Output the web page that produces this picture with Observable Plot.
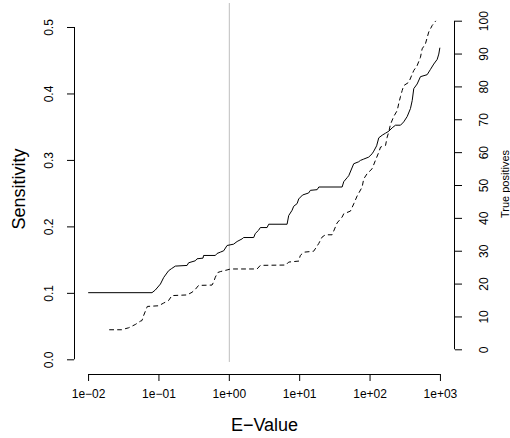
<!DOCTYPE html>
<html><head><meta charset="utf-8">
<script src="https://cdn.jsdelivr.net/npm/d3@7"></script>
<script src="https://cdn.jsdelivr.net/npm/@observablehq/plot@0.6"></script>
<style>body{margin:0;background:#fff}</style>
</head><body><div id="chart"></div>
<script>
// Solid curve: sensitivity vs E-value (left axis)
const solidE = [0.01,0.0797,0.0888,0.105,0.117,0.137,0.150,0.171,0.251,0.264,0.329,0.348,0.423,0.431,0.633,0.670,0.746,0.831,0.929,1.15,1.29,1.52,1.60,2.22,2.34,2.61,2.76,3.44,3.63,6.62,6.98,7.80,8.22,9.19,9.68,11.0,13.4,14.2,17.7,18.7,40.1,42.3,47.2,49.8,58.6,69.0,73.0,81.3,95.7,107,113,124,133,149,166,185,206,230,271,301,337,375,397,418,467,520,648,722,804,899,948,980];
const solidSens = [0.101,0.101,0.105,0.114,0.124,0.134,0.137,0.141,0.142,0.146,0.149,0.152,0.153,0.157,0.157,0.160,0.162,0.164,0.172,0.174,0.178,0.182,0.184,0.184,0.190,0.195,0.199,0.199,0.204,0.204,0.217,0.225,0.231,0.235,0.242,0.248,0.251,0.255,0.256,0.260,0.260,0.268,0.274,0.277,0.295,0.298,0.300,0.302,0.305,0.310,0.314,0.322,0.334,0.338,0.341,0.344,0.349,0.353,0.353,0.358,0.366,0.378,0.390,0.408,0.415,0.426,0.429,0.437,0.445,0.452,0.460,0.469];
// Dashed curve: true positives vs E-value (right axis)
const dashedE = [0.0199,0.0292,0.0371,0.0461,0.0543,0.0574,0.0605,0.064,0.0684,0.0989,0.116,0.137,0.153,0.251,0.295,0.329,0.366,0.568,0.598,0.633,0.683,0.746,0.929,1.04,2.48,2.76,6.36,6.98,9.68,10.2,11.4,15.8,18.6,20.8,23.2,28.9,34.0,40.1,42.3,52.6,58.6,65.5,77.1,81.3,90.8,107,119,133,141,166,175,185,195,217,243,256,271,286,301,355,418,467,520,550,612,682,764,852];
const dashedTP = [6.1,6.1,6.7,7.7,8.7,8.9,10.4,11.7,13.2,13.4,14.2,15.0,16.5,16.7,17.5,18.4,19.6,19.7,20.6,22.1,23.5,23.8,24.3,24.6,24.6,25.7,25.8,26.7,27.0,28.7,29.7,30.0,32.3,34.3,35.0,35.0,38.6,40.4,41.4,42.2,44.4,46.8,49.5,52.0,53.6,55.1,57.6,60.1,61.7,62.2,64.7,66.4,68.6,71.0,72.8,75.0,77.1,78.9,80.4,81.4,85.0,86.5,89.0,91.6,93.1,96.7,98.7,100];

const xTicks = [1e-2, 1e-1, 1, 10, 100, 1000];
const xTickLabels = ["1e\u221202","1e\u221201","1e+00","1e+01","1e+02","1e+03"];
const sensTicks = [0, 0.1, 0.2, 0.3, 0.4, 0.5];
const sensTickLabels = ["0.0","0.1","0.2","0.3","0.4","0.5"];
const tpTicks = [0,10,20,30,40,50,60,70,80,90,100];
const refE = 1;
const xTitle = "E\u2212Value", yTitle = "Sensitivity", y2Title = "True positives";

// layout / scale helpers
const xDomain = [10 ** -2.2, 10 ** 3.2];
const yDomain = [-0.0221, 0.5361];
const tpA = 0.015047, tpB = 0.0049443; // right axis mapping onto left scale
const tpToS = tp => tpA + tpB * tp;

const solid = solidE.map((e, i) => ({e, s: solidSens[i]}));
const dashed = dashedE.map((e, i) => ({e, s: tpToS(dashedTP[i])}));
const font = "Liberation Sans, Arial, Helvetica, sans-serif";

const chart = Plot.plot({
  width: 510, height: 438,
  marginLeft: 74, marginRight: 56, marginTop: 3, marginBottom: 64,
  style: {fontFamily: font, background: "white", color: "black"},
  x: {type: "log", domain: xDomain},
  y: {domain: yDomain},
  marks: [
    Plot.ruleX([refE], {y1: -0.004, y2: yDomain[1], stroke: "#bebebe", strokeWidth: 1}),
    Plot.line(solid, {x: "e", y: "s", stroke: "black", strokeWidth: 1}),
    Plot.line(dashed, {x: "e", y: "s", stroke: "black", strokeWidth: 1, strokeDasharray: "4,4"}),
    // x axis
    Plot.ruleY([yDomain[0]], {x1: xTicks[0], x2: xTicks[xTicks.length - 1], stroke: "black"}),
    Plot.axisX(xTicks, {tickSize: 7, tickPadding: 8, fontSize: 12, tickFormat: d => xTickLabels[xTicks.indexOf(d)], label: null}),
    // left axis
    Plot.ruleX([xDomain[0]], {y1: sensTicks[0], y2: sensTicks[sensTicks.length - 1], stroke: "black"}),
    Plot.axisY(sensTicks, {anchor: "left", tickSize: 7, tickPadding: 15, tickRotate: -90, fontSize: 12, tickFormat: d => sensTickLabels[sensTicks.indexOf(d)], label: null}),
    // right axis
    Plot.ruleX([xDomain[1]], {y1: tpToS(tpTicks[0]), y2: tpToS(tpTicks[tpTicks.length - 1]), stroke: "black"}),
    Plot.axisY(tpTicks.map(tpToS), {anchor: "right", tickSize: 7, tickPadding: 18, tickRotate: -90, lineAnchor: "top", fontSize: 12, tickFormat: d => String(Math.round((d - tpA) / tpB)), label: null}),
    // titles
    Plot.text([xTitle], {frameAnchor: "bottom", dy: 51, fontSize: 18, textAnchor: "middle", lineAnchor: "middle"}),
    Plot.text([yTitle], {frameAnchor: "left", dx: -55, rotate: -90, fontSize: 18, textAnchor: "middle", lineAnchor: "middle"}),
    Plot.text([y2Title], {frameAnchor: "right", dx: 51, dy: -5, rotate: -90, fontSize: 11, textAnchor: "middle", lineAnchor: "middle"})
  ]
});
document.getElementById("chart").appendChild(chart);
</script>
</body></html>
